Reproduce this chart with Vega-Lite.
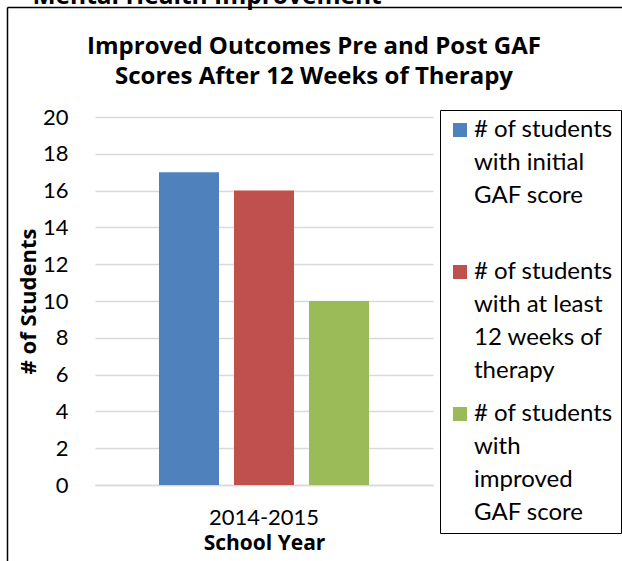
{
  "$schema": "https://vega.github.io/schema/vega-lite/v6.json",
  "autosize": "none",
  "width": 338,
  "height": 368,
  "padding": {"left": 95, "top": 117, "right": 189, "bottom": 76},
  "background": "white",
  "config": {
    "font": "Lato",
    "view": {"stroke": null},
    "style": {"guide-label": {"lineHeight": 33}}
  },
  "title": {
    "text": ["Improved Outcomes Pre and Post GAF", "Scores After 12 Weeks of Therapy"],
    "font": "Open Sans",
    "fontSize": 24,
    "fontWeight": "bold",
    "color": "black",
    "lineHeight": 30,
    "anchor": "middle",
    "dx": 50,
    "offset": -106
  },
  "data": {
    "values": [
      {"year": "2014-2015", "series": "# of students with initial GAF score", "count": 17},
      {"year": "2014-2015", "series": "# of students with at least 12 weeks of therapy", "count": 16},
      {"year": "2014-2015", "series": "# of students with improved GAF score", "count": 10}
    ]
  },
  "layer": [
    {
      "mark": {"type": "bar"},
      "encoding": {
        "x": {
          "field": "year",
          "type": "nominal",
          "scale": {"paddingInner": 0, "paddingOuter": 0.251},
          "axis": {
            "title": "School Year",
            "titleFont": "Open Sans",
            "titleFontSize": 21,
            "titleFontWeight": "bold",
            "titleColor": "black",
            "titlePadding": 4,
            "labelAngle": 0,
            "labelFont": "Lato",
            "labelFontSize": 22,
            "labelColor": "black",
            "labelPadding": 22,
            "ticks": false,
            "domainColor": "#d9d9d9",
            "domainWidth": 1.5
          }
        },
        "xOffset": {
          "field": "series",
          "type": "nominal",
          "sort": null,
          "scale": {"paddingInner": 0.2, "paddingOuter": 0.1}
        },
        "y": {
          "field": "count",
          "type": "quantitative",
          "scale": {"domain": [0, 20]},
          "axis": {
            "title": "# of Students",
            "titleFont": "Open Sans",
            "titleFontSize": 22,
            "titleFontWeight": "bold",
            "titleColor": "black",
            "titlePadding": 2,
            "values": [0, 2, 4, 6, 8, 10, 12, 14, 16, 18, 20],
            "labelFont": "Lato",
            "labelFontSize": 22,
            "labelColor": "black",
            "labelPadding": 27,
            "ticks": false,
            "domain": false,
            "gridColor": "#d9d9d9",
            "gridWidth": 1.5
          }
        },
        "color": {
          "field": "series",
          "type": "nominal",
          "scale": {
            "domain": ["# of students with initial GAF score", "# of students with at least 12 weeks of therapy", "# of students with improved GAF score"],
            "range": ["#4f81bd", "#c0504d", "#9bbb59"]
          },
          "legend": {
            "title": null,
            "orient": "none",
            "legendX": 345,
            "legendY": -7,
            "padding": 8,
            "strokeColor": "black",
            "symbolType": "square",
            "symbolSize": 196,
            "symbolStrokeWidth": 0,
            "labelFont": "Lato",
            "labelFontSize": 24,
            "labelColor": "black",
            "labelLimit": 400,
            "labelOffset": 2,
            "rowPadding": 19,
            "labelExpr": "datum.label == '# of students with initial GAF score' ? ['# of students', 'with initial', 'GAF score', ''] : datum.label == '# of students with at least 12 weeks of therapy' ? ['# of students', 'with at least', '12 weeks of', 'therapy'] : ['# of students', 'with', 'improved', 'GAF score']"
          }
        }
      }
    },
    {
      "mark": {"type": "point", "opacity": 0, "clip": true},
      "encoding": {
        "x": {
          "field": "count",
          "type": "quantitative",
          "scale": {"domain": [0, 20], "range": [-88, 700], "nice": false, "zero": false},
          "axis": {
            "orient": "top",
            "offset": 110,
            "domainColor": "black",
            "domainWidth": 1.5,
            "ticks": false,
            "labels": false,
            "grid": false,
            "title": "Mental Health Improvement",
            "titleFont": "Open Sans",
            "titleFontSize": 24.5,
            "titleFontWeight": "bold",
            "titleColor": "black",
            "titleAnchor": "start",
            "titleAlign": "left",
            "titleBaseline": "alphabetic",
            "titleX": -63,
            "titleY": -4
          }
        },
        "y": {
          "field": "count",
          "type": "quantitative",
          "scale": {"domain": [0, 20], "range": [460, -110], "nice": false, "zero": false},
          "axis": {
            "orient": "left",
            "offset": 88,
            "domainColor": "black",
            "domainWidth": 1.5,
            "ticks": false,
            "labels": false,
            "grid": false,
            "title": null
          }
        }
      }
    }
  ],
  "resolve": {
    "scale": {"x": "independent", "y": "independent"},
    "axis": {"x": "independent", "y": "independent"}
  }
}
